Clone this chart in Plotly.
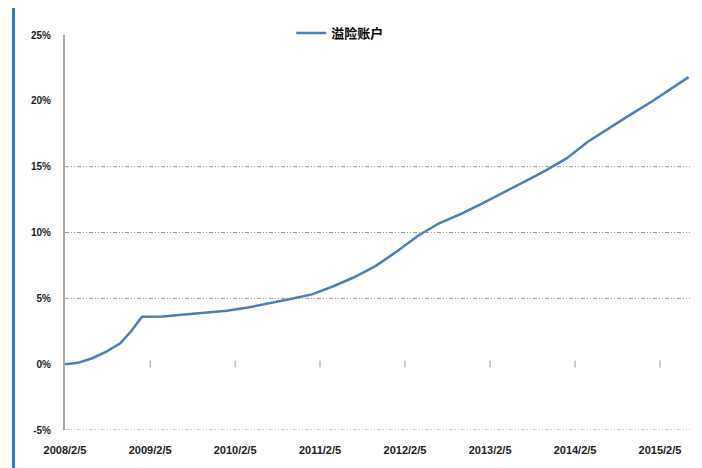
import plotly.graph_objects as go

# ---- data ----
dates = [
    "2008-02-05", "2008-04-01", "2008-06-01", "2008-08-01", "2008-10-01",
    "2008-11-15", "2009-01-01", "2009-04-01", "2009-07-01", "2009-10-01",
    "2010-01-01", "2010-04-01", "2010-07-01", "2010-10-01", "2011-01-01",
    "2011-04-01", "2011-07-01", "2011-10-01", "2012-01-01", "2012-04-01",
    "2012-07-01", "2012-10-01", "2013-01-01", "2013-04-01", "2013-07-01",
    "2013-10-01", "2014-01-01", "2014-04-01", "2014-07-01", "2014-10-01",
    "2015-01-01", "2015-04-01", "2015-06-08",
]
values = [
    0.00, 0.10, 0.45, 0.95, 1.60,
    2.50, 3.60, 3.62, 3.78, 3.92,
    4.05, 4.30, 4.60, 4.95, 5.30,
    5.90, 6.60, 7.45, 8.55, 9.75,
    10.70, 11.40, 12.20, 13.00, 13.85,
    14.70, 15.65, 16.90, 17.95, 18.95,
    19.95, 21.00, 21.80,
]
series_name = "溢险账户"

x_tick_dates = ["2008-02-05", "2009-02-05", "2010-02-05", "2011-02-05",
                "2012-02-05", "2013-02-05", "2014-02-05", "2015-02-05"]
x_tick_labels = ["2008/2/5", "2009/2/5", "2010/2/5", "2011/2/5",
                 "2012/2/5", "2013/2/5", "2014/2/5", "2015/2/5"]
y_ticks = [-5, 0, 5, 10, 15, 20, 25]
y_tick_labels = ["-5%", "0%", "5%", "10%", "15%", "20%", "25%"]
grid_levels = [-5, 5, 10, 15]
x_range = ["2008-02-05", "2015-06-14"]
y_range = [-5, 25]

FAMILY = "Liberation Sans, Arial, sans-serif"

fig = go.Figure()

fig.add_trace(go.Scatter(
    x=dates, y=values, mode="lines", name=series_name,
    line=dict(color="#4A7EBB", width=2.5),
))

# small category tick marks sitting on the 0% line
fig.add_trace(go.Scatter(
    x=x_tick_dates[1:], y=[0] * (len(x_tick_dates) - 1), mode="markers",
    marker=dict(symbol="line-ns", size=5, line=dict(color="#9a9a9a", width=1)),
    showlegend=False, hoverinfo="skip",
))

shapes = []
for lvl in grid_levels:
    shapes.append(dict(type="line", xref="paper", yref="y", x0=0, x1=1, y0=lvl, y1=lvl,
                       line=dict(color="#9a9a9a", width=1, dash="4px,2px,1px,2px,1px,2px"),
                       layer="below"))
# blue frame edge at the left of the picture
shapes.append(dict(type="line", xref="paper", yref="paper", x0=-0.0824, x1=-0.0824, y0=-0.2, y1=1.2,
                   line=dict(color="#2a7fd0", width=3)))

fig.update_layout(
    width=702, height=468,
    margin=dict(l=57, r=20, t=27, b=46, autoexpand=False),
    paper_bgcolor="white", plot_bgcolor="white",
    shapes=shapes,
    showlegend=True,
    legend=dict(orientation="h", x=0.362, xanchor="left", y=1.005, yanchor="middle",
                font=dict(family="Noto Sans CJK SC, sans-serif", size=13, color="#000", weight="bold"),
                bgcolor="rgba(0,0,0,0)", itemwidth=30),
    xaxis=dict(
        type="date", range=x_range, tickvals=x_tick_dates, ticktext=x_tick_labels,
        showgrid=False, zeroline=False, showline=False, automargin=False,
        ticks="outside", ticklen=10, tickcolor="rgba(0,0,0,0)",
        tickfont=dict(family=FAMILY, size=11, color="#1a1a1a", weight="bold"),
        tickangle=0,
    ),
    yaxis=dict(
        range=y_range, tickvals=y_ticks, ticktext=y_tick_labels,
        showgrid=False, zeroline=False, automargin=False,
        showline=True, linecolor="#a6a6a6", linewidth=2,
        ticks="outside", ticklen=10, tickcolor="rgba(0,0,0,0)",
        tickfont=dict(family=FAMILY, size=10, color="#1a1a1a", weight="bold"),
    ),
)

fig.write_html("out.html")
